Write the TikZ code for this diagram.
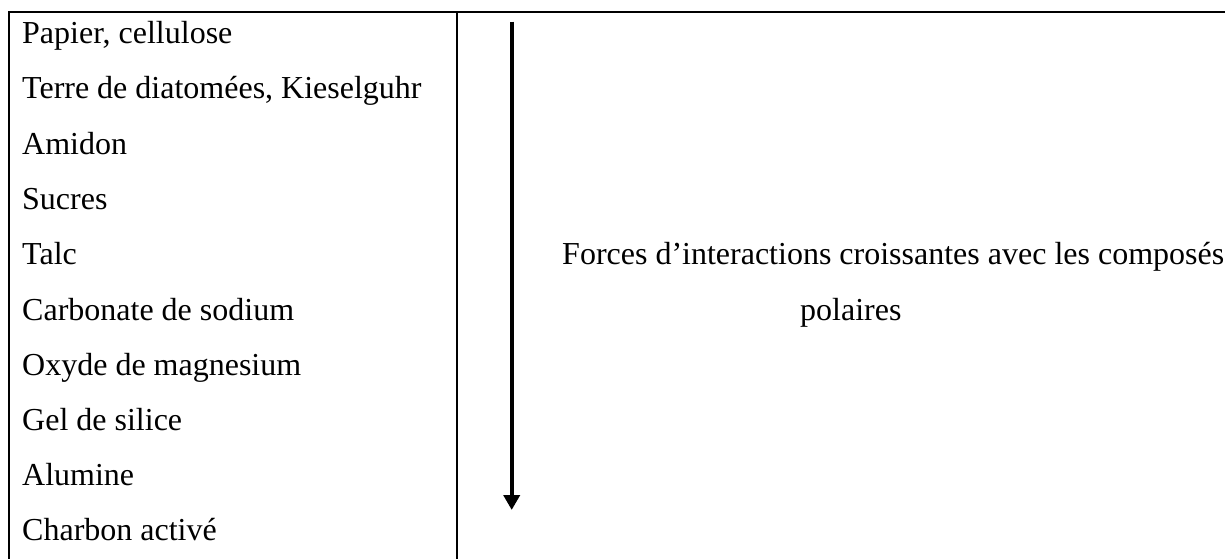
\documentclass[tikz,border=0pt]{standalone}
\usepackage{fontspec}
\setmainfont{Liberation Serif}
\usetikzlibrary{arrows.meta}
\tikzset{
  rule/.style={line width=2pt, black},
  item/.style={anchor=base west, inner sep=0pt, font=\fontsize{32}{38}\selectfont},
  trend/.style={line width=4pt, -{Triangle[length=15pt,width=16pt]}}
}
\begin{document}
\begin{tikzpicture}[x=1pt, y=-1pt]
  \useasboundingbox (0,0) rectangle (1225,559);
  % table rules
  \draw[rule] (8.5,12.3) -- (1225,12.3);
  \draw[rule] (8.5,11.3) -- (8.5,559);
  \draw[rule] (456.7,11.3) -- (456.7,559);
  % adsorbents, weakest to strongest
  \node[item] (p1)  at (22,44)  {Papier, cellulose};
  \node[item] (p2)  at (22,99)  {Terre de diatomées, Kieselguhr};
  \node[item] (p3)  at (22,154) {Amidon};
  \node[item] (p4)  at (22,209) {Sucres};
  \node[item] (p5)  at (22,264) {Talc};
  \node[item] (p6)  at (22,320) {Carbonate de sodium};
  \node[item] (p7)  at (22,375) {Oxyde de magnesium};
  \node[item] (p8)  at (22,430) {Gel de silice};
  \node[item] (p9)  at (22,485) {Alumine};
  \node[item] (p10) at (22,540) {Charbon activé};
  % trend arrow
  \coordinate (atop) at (511.7,21.7);
  \coordinate (abot) at (511.7,510);
  \draw[trend] (atop) -- (abot);
  % caption
  \node[item] (c1) at (562,264) {Forces d’interactions croissantes avec les composés};
  \node[item] (c2) at (800,320) {polaires};
\end{tikzpicture}
\end{document}
